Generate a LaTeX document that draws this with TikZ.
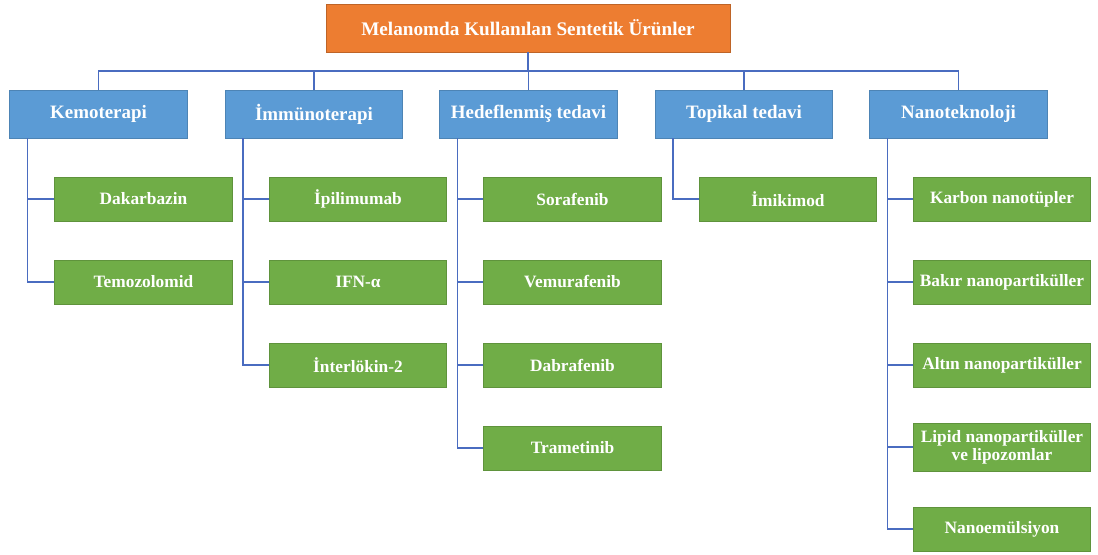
\documentclass[tikz,border=0pt]{standalone}
\usepackage{fontspec}
\setmainfont{Liberation Serif}
\usepackage{tikz}
\usetikzlibrary{positioning}
\definecolor{turuncu}{HTML}{ED7D31}
\definecolor{mavi}{HTML}{5B9BD5}
\definecolor{yesil}{HTML}{70AD47}
\definecolor{hat}{HTML}{4A6CC0}
\tikzset{anabaslik/.style={fill=turuncu, draw=turuncu!80!black, line width=0.6pt, text=white, font=\bfseries\fontsize{14.4}{16}\selectfont, minimum width=303pt, minimum height=36pt, inner sep=0pt}}
\tikzset{grup/.style={fill=mavi, draw=mavi!85!black, line width=0.6pt, text=white, font=\bfseries\fontsize{14.2}{16}\selectfont, minimum width=133pt, minimum height=36pt, inner sep=0pt}}
\tikzset{urun/.style={fill=yesil, draw=yesil!85!black, line width=0.6pt, text=white, font=\bfseries\fontsize{13}{13.6}\selectfont, minimum width=133pt, minimum height=33pt, inner sep=0pt, align=center}}
\tikzset{baglanti/.style={draw=hat, line width=1pt}}

\begin{document}
\begin{tikzpicture}[x=0.75pt,y=-0.75pt]
\useasboundingbox (0,0) rectangle (1098,555);
\node[anabaslik] (kok) at (528,28) {Melanomda Kullanılan Sentetik Ürünler};
% ana gruplar
\node[grup] (kemo) at (98.5,114) {Kemoterapi};
\node[grup] (immu) at (314,114) {İmmünoterapi};
\node[grup] (hedef) at (528.5,114) {Hedeflenmiş tedavi};
\node[grup] (topik) at (744,114) {Topikal tedavi};
\node[grup] (nano) at (958.5,114) {Nanoteknoloji};
% urunler
\node[urun] (dakar) at (143.5,199) {Dakarbazin};
\node[urun] (temo) at (143.5,282) {Temozolomid};
\node[urun] (ipili) at (358,199) {İpilimumab};
\node[urun] (ifn) at (358,282) {IFN-α};
\node[urun] (inter) at (358,365) {İnterlökin-2};
\node[urun] (sora) at (572.5,199) {Sorafenib};
\node[urun] (vemu) at (572.5,282) {Vemurafenib};
\node[urun] (dabra) at (572.5,365) {Dabrafenib};
\node[urun] (trame) at (572.5,448) {Trametinib};
\node[urun] (imiki) at (788,199) {İmikimod};
\node[urun] (karbon) at (1002,199) {Karbon nanotüpler};
\node[urun] (bakir) at (1002,282) {Bakır nanopartiküller};
\node[urun] (altin) at (1002,365) {Altın nanopartiküller};
\node[urun, minimum height=36pt] (lipid) at (1002,447) {Lipid nanopartiküller\\ve lipozomlar};
\node[urun] (emul) at (1002,529) {Nanoemülsiyon};
% kok -> gruplar
\coordinate (bus) at (528,71);
\draw[baglanti] (kok.south) -- (bus);
\foreach \g in {kemo,immu,hedef,topik,nano}
  \draw[baglanti] (bus) -| (\g.north);
% gruplar -> urunler
\foreach \g/\u in {kemo/dakar,kemo/temo,immu/ipili,immu/ifn,immu/inter,hedef/sora,hedef/vemu,hedef/dabra,hedef/trame,topik/imiki,nano/karbon,nano/bakir,nano/altin,nano/lipid,nano/emul}
  \draw[baglanti] ([xshift=13.5pt]\g.south west) |- (\u.west);
\end{tikzpicture}
\end{document}
